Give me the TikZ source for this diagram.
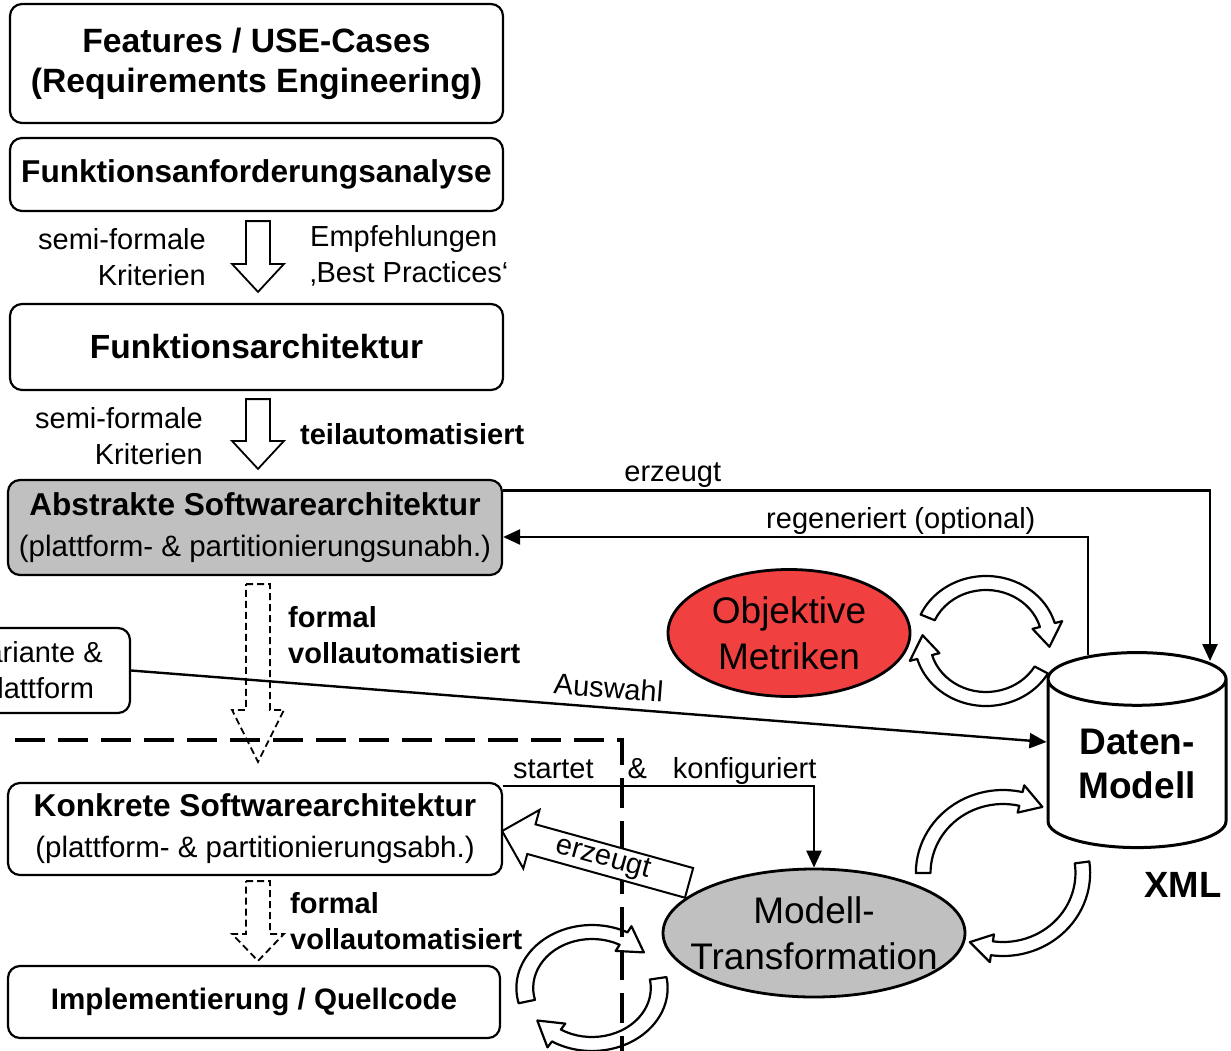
\documentclass[tikz,border=0pt]{standalone}
\usepackage{fontspec}
\setmainfont{Liberation Sans}
\usepackage{xcolor}
\usetikzlibrary{arrows.meta, positioning, calc, shapes.geometric, shapes.arrows}

\definecolor{hellgrau}{RGB}{192,192,192}
\definecolor{metrikrot}{RGB}{240,64,64}

% gebogener Hohlpfeil: Mittelpunkt, Radius, Start, Ende, xscale
\newcommand{\kreispfeil}[5]{%
  \begin{scope}[shift={#1}, xscale=#5]
    \pgfmathsetmacro{\kpa}{#2+7}
    \pgfmathsetmacro{\kpi}{#2-7}
    \pgfmathsetmacro{\kpaa}{#2+14}
    \pgfmathsetmacro{\kpii}{#2-14}
    \pgfmathsetmacro{\kpe}{#4+1260/#2}
    \draw[ringpfeil] (#3:\kpa) arc[start angle=#3, end angle=#4, radius=\kpa]
      -- (#4:\kpaa) -- (\kpe:#2) -- (#4:\kpii) -- (#4:\kpi)
      arc[start angle=#4, end angle=#3, radius=\kpi] -- cycle;
  \end{scope}}

\begin{document}
\begin{tikzpicture}[
    x=1pt, y=-1pt,
    box/.style={
        rectangle,
        draw,
        line width=2.2pt,
        rounded corners=12pt,
        minimum width=493pt,
        inner sep=0pt,
        align=center
    },
    beschr/.style={font=\fontsize{29}{36}\selectfont, inner sep=0pt},
    fettbeschr/.style={font=\bfseries\fontsize{29}{36}\selectfont, inner sep=0pt, align=left, anchor=west},
    pfeil/.style={line width=2.4pt, -{Triangle[length=17pt, width=15pt]}},
    blockpfeil/.style={line width=1.8pt, line join=miter,
        to path={let \p1=(\tikztostart), \p2=(\tikztotarget) in
            (\x1-12pt,\y1) -- (\x1+12pt,\y1) -- (\x1+12pt,\y2+#1) -- (\x1+26pt,\y2+#1)
            -- (\x1,\y2) -- (\x1-26pt,\y2+#1) -- (\x1-12pt,\y2+#1) -- cycle}},
    blockpfeil/.default=28pt,
    strichpfeil/.style={dash pattern=on 7pt off 4pt},
    ringpfeil/.style={line width=2.2pt, line join=round},
    trennlinie/.style={line width=4.5pt, dash pattern=on 30pt off 13pt}
]

\useasboundingbox (0,0) rectangle (1231,1051);
\clip (0,0) rectangle (1231,1051);

% linke Spalte
\node[box, minimum height=119pt, font=\bfseries\fontsize{33.7}{40}\selectfont] (feat) at (256.5,63.5)
    {Features / USE-Cases\\(Requirements Engineering)};
\node[box, minimum height=73pt, font=\bfseries\fontsize{31.6}{40}\selectfont] (fana) at (256.5,174.5)
    {Funktionsanforderungsanalyse};
\node[box, minimum height=86pt, font=\bfseries\fontsize{33.5}{40}\selectfont] (farch) at (256.5,347)
    {Funktionsarchitektur};
\node[box, fill=hellgrau, minimum width=494pt, minimum height=95pt, font=\fontsize{29.5}{41}\selectfont] (abs) at (255,527.5)
    {{\bfseries\fontsize{31.6}{41}\selectfont Abstrakte Softwarearchitektur}\\(plattform- \& partitionierungsunabh.)};
\node[box, minimum width=494pt, minimum height=92pt, font=\fontsize{29.5}{41}\selectfont] (konk) at (255,829)
    {{\bfseries\fontsize{31.6}{41}\selectfont Konkrete Softwarearchitektur}\\(plattform- \& partitionierungsabh.)};
\node[box, minimum width=492pt, minimum height=72pt, font=\bfseries\fontsize{29.6}{36}\selectfont] (imp) at (254,1002)
    {Implementierung / Quellcode};
\node[box, minimum width=188pt, minimum height=85pt, font=\fontsize{29}{36}\selectfont] (var) at (36,670.5)
    {Variante \&\\Plattform};

% rechte Seite
\node[cylinder, draw, line width=3pt, shape border rotate=90, aspect=0.45,
      minimum width=178pt, minimum height=195pt, inner sep=0pt, align=center,
      font=\bfseries\fontsize{37}{44}\selectfont] (dm) at (1137,764) {Daten-\\Modell};
\node[font=\bfseries\fontsize{36.5}{44}\selectfont, inner sep=0pt] (xml) at (1183,885) {XML};
\node[ellipse, draw, line width=2.8pt, fill=metrikrot, minimum width=242pt, minimum height=127pt,
      inner sep=0pt, align=center, font=\fontsize{37}{46}\selectfont] (om) at (789,633) {Objektive\\Metriken};
\node[ellipse, draw, line width=2.8pt, fill=hellgrau, minimum width=302pt, minimum height=128pt,
      inner xsep=-40pt, inner ysep=-10pt, align=center, font=\fontsize{37}{46}\selectfont] (mt) at (814,933)
    {Modell-\\Transformation};

% Beschriftungen
\node[beschr, align=right, anchor=east] (k1) at (206,257) {semi-formale\\Kriterien};
\node[beschr, align=left, anchor=west] (emp) at (310,256) {Empfehlungen\\‚Best Practices‘};
\node[beschr, align=right, anchor=east] (k2) at (203,436) {semi-formale\\Kriterien};
\node[fettbeschr] (teil) at (300,434) {teilautomatisiert};
\node[fettbeschr] (voll1) at (288,635) {formal\\vollautomatisiert};
\node[fettbeschr] (voll2) at (290,921) {formal\\vollautomatisiert};

% Hohlpfeile
\draw[blockpfeil] ($(fana.south)+(1.5,9)$) to ($(farch.north)+(1.5,-11)$);
\draw[blockpfeil] ($(farch.south)+(1.5,8)$) to ($(abs.north)+(1.5,-10)$);
\draw[blockpfeil=52pt, strichpfeil] ($(abs.south)+(3,8)$) to ($(konk.north)+(3,-20)$);
\draw[blockpfeil=27pt, strichpfeil] ($(konk.south)+(3,5)$) to ($(imp.north)+(3,-4)$);

% Trennlinie
\draw[trennlinie] (15,740) -- (622,740) -- (622,1060);

% Verbindungen
\coordinate (dmein) at (1210,661);
\coordinate (dmaus) at (1088,655);
\draw[pfeil] ($(abs.east)+(0,-37)$) -| (dmein) node[pos=0.12, above=2pt, beschr] {erzeugt};
\draw[pfeil] (dmaus) |- ($(abs.east)+(0,9.5)$) node[pos=0.66, above=1pt, beschr] {regeneriert (optional)};
\draw[pfeil] (var.east) -- ($(dm.west)+(0,-22)$) node[pos=0.52, sloped, above=8pt, beschr] {Auswahl};
\draw[pfeil] ($(konk.east)+(0,-43)$) -| (mt.north)
    node[pos=0.26, above=0pt, beschr] {startet\hspace{34pt}\&\hspace{26pt}konfiguriert};

\node[beschr, single arrow, draw, fill=white, line width=2pt, shape border rotate=180, rotate=-15.5,
      minimum height=194pt, single arrow head extend=15pt, single arrow tip angle=90, inner sep=2pt] (erz) at (603,859) {erzeugt};

% Kreislaeufe
\kreispfeil{(986,641)}{58}{204}{344}{1.1}
\kreispfeil{(986,641)}{58}{30}{164}{1.1}
\kreispfeil{(1003,873)}{76}{180}{283}{1.05}
\kreispfeil{(1003,873)}{76}{-8}{98}{1.05}
\kreispfeil{(592,988)}{56}{166}{298}{1.2}
\kreispfeil{(592,988)}{56}{-10}{122}{1.2}

\end{tikzpicture}
\end{document}
